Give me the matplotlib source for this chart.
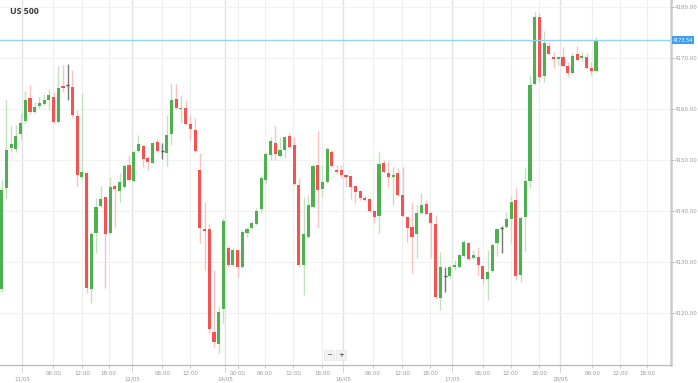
import numpy as np
import matplotlib
matplotlib.use("Agg")
import matplotlib.pyplot as plt

# hourly candles
opens = [4124.8, 4144.6, 4152.4, 4152.2, 4155.2, 4157.7, 4162.2, 4159.5, 4160.6, 4161.0,
         4161.8, 4162.4, 4157.5, 4164.4, 4164.8, 4164.4, 4158.7, 4146.7, 4147.5, 4124.8,
         4135.7, 4141.0, 4142.8, 4135.7, 4145.0, 4144.0, 4144.8, 4149.1, 4145.9, 4151.8,
         4152.8, 4150.5, 4149.5, 4153.6, 4151.8, 4151.4, 4155.2, 4162.0, 4160.0, 4160.3,
         4157.1, 4155.9, 4148.1, 4136.5, 4136.5, 4116.3, 4114.0, 4120.7, 4132.8, 4129.5,
         4132.4, 4129.1, 4135.7, 4136.7, 4137.5, 4140.4, 4146.1, 4151.0, 4153.4, 4150.8,
         4152.0, 4154.8, 4153.0, 4145.2, 4129.5, 4135.0, 4140.8, 4149.1, 4144.4, 4145.7,
         4151.6, 4148.1, 4148.1, 4147.1, 4146.9, 4145.0, 4144.0, 4142.6, 4142.4, 4140.1,
         4139.1, 4149.5, 4147.5, 4146.7, 4147.5, 4143.2, 4138.9, 4136.9, 4135.4, 4139.7,
         4141.4, 4139.7, 4137.5, 4123.0, 4127.3, 4127.3, 4129.1, 4129.1, 4131.2, 4133.8,
         4130.8, 4131.0, 4129.3, 4126.7, 4128.3, 4133.8, 4136.7, 4136.9, 4138.5, 4142.2,
         4127.5, 4138.9, 4145.9, 4164.9, 4178.1, 4166.5, 4172.4, 4170.1, 4169.9, 4170.3,
         4168.5, 4167.1, 4170.8, 4170.1, 4170.3, 4168.1, 4167.5]
highs = [4146.1, 4161.8, 4156.7, 4156.9, 4159.3, 4163.6, 4164.8, 4161.4, 4162.4, 4163.0,
         4164.0, 4163.4, 4168.5, 4168.7, 4168.9, 4167.7, 4159.9, 4163.2, 4147.7, 4136.0,
         4142.6, 4145.0, 4143.0, 4146.7, 4145.2, 4147.5, 4149.3, 4151.0, 4152.0, 4155.0,
         4153.0, 4150.8, 4153.8, 4154.2, 4153.4, 4158.9, 4165.2, 4165.0, 4162.8, 4161.8,
         4158.9, 4158.3, 4151.4, 4141.8, 4137.5, 4128.5, 4121.4, 4138.7, 4133.2, 4132.8,
         4132.6, 4136.3, 4136.9, 4138.1, 4140.6, 4147.1, 4151.6, 4154.6, 4156.7, 4154.6,
         4154.8, 4155.4, 4154.6, 4146.5, 4142.8, 4143.2, 4149.3, 4155.8, 4149.1, 4152.6,
         4152.0, 4149.1, 4149.1, 4147.3, 4147.1, 4145.2, 4144.2, 4143.0, 4142.6, 4140.3,
         4151.6, 4150.1, 4149.9, 4148.7, 4148.5, 4148.7, 4139.1, 4141.8, 4141.2, 4143.6,
         4142.2, 4140.1, 4139.3, 4132.0, 4129.1, 4129.5, 4130.4, 4131.6, 4134.4, 4134.0,
         4132.4, 4133.0, 4129.5, 4132.4, 4133.8, 4136.7, 4137.1, 4139.9, 4143.0, 4144.6,
         4139.1, 4148.5, 4166.7, 4179.1, 4178.9, 4175.4, 4173.2, 4171.2, 4170.5, 4172.2,
         4169.3, 4171.0, 4172.4, 4171.2, 4171.0, 4169.3, 4174.2]
lows = [4124.2, 4142.6, 4151.6, 4151.6, 4154.0, 4157.3, 4159.1, 4159.3, 4160.3, 4160.8,
        4159.9, 4157.1, 4157.3, 4163.4, 4161.8, 4158.5, 4145.0, 4146.5, 4124.0, 4122.0,
        4131.8, 4140.8, 4124.9, 4135.5, 4136.9, 4141.8, 4144.6, 4145.9, 4145.7, 4151.6,
        4148.7, 4148.1, 4149.3, 4151.6, 4150.3, 4148.9, 4153.0, 4160.0, 4157.3, 4156.9,
        4154.0, 4151.6, 4133.8, 4128.5, 4116.1, 4113.4, 4112.2, 4118.1, 4129.0, 4129.3,
        4127.1, 4128.9, 4134.9, 4136.5, 4137.3, 4139.7, 4145.5, 4150.1, 4150.1, 4150.6,
        4150.5, 4152.4, 4145.2, 4129.3, 4123.6, 4134.8, 4140.6, 4136.9, 4142.8, 4145.5,
        4148.7, 4147.3, 4146.5, 4144.8, 4142.4, 4141.6, 4142.2, 4142.0, 4139.9, 4137.7,
        4135.7, 4147.5, 4144.8, 4141.2, 4143.0, 4138.9, 4134.0, 4127.9, 4130.8, 4139.5,
        4139.3, 4130.8, 4123.0, 4120.5, 4124.2, 4126.9, 4128.5, 4128.9, 4131.0, 4130.4,
        4130.6, 4127.5, 4125.7, 4122.6, 4128.1, 4131.2, 4131.8, 4136.7, 4133.8, 4126.5,
        4126.1, 4132.2, 4144.6, 4164.7, 4165.3, 4165.3, 4170.6, 4168.1, 4168.7, 4168.3,
        4166.5, 4166.9, 4169.5, 4169.5, 4167.9, 4166.7, 4167.3]
closes = [4144.2, 4152.0, 4153.2, 4154.8, 4157.3, 4161.8, 4159.5, 4160.5, 4161.2, 4161.8,
          4162.8, 4157.5, 4164.2, 4164.2, 4164.8, 4158.9, 4147.1, 4147.7, 4124.9, 4135.4,
          4140.8, 4142.4, 4135.4, 4144.8, 4144.4, 4145.7, 4148.9, 4146.1, 4151.6, 4153.2,
          4150.3, 4149.7, 4153.4, 4151.8, 4151.8, 4155.0, 4161.8, 4160.3, 4160.3, 4157.1,
          4156.1, 4151.8, 4136.7, 4136.1, 4116.9, 4114.4, 4120.2, 4138.0, 4129.5, 4132.4,
          4129.1, 4135.9, 4136.5, 4137.7, 4140.1, 4146.5, 4151.2, 4153.8, 4151.2, 4152.0,
          4154.6, 4152.6, 4145.4, 4129.5, 4135.4, 4141.2, 4148.9, 4144.2, 4145.6, 4152.2,
          4148.9, 4147.7, 4147.1, 4146.7, 4144.8, 4143.8, 4142.6, 4142.2, 4140.1, 4138.9,
          4149.3, 4147.7, 4146.7, 4147.1, 4143.2, 4139.1, 4136.7, 4135.0, 4139.7, 4141.2,
          4139.5, 4137.7, 4123.2, 4129.1, 4127.3, 4129.1, 4129.5, 4131.4, 4134.0, 4130.6,
          4131.4, 4129.5, 4126.7, 4128.1, 4133.4, 4136.5, 4136.7, 4138.5, 4141.8, 4127.3,
          4138.7, 4145.9, 4164.8, 4178.1, 4166.3, 4173.0, 4170.8, 4169.9, 4170.3, 4168.5,
          4167.1, 4170.5, 4169.7, 4170.3, 4168.1, 4167.5, 4173.4]

time_pos = [10.9, 17.0, 22.7, 34.0, 39.9, 50.1, 55.8, 61.8, 67.9, 78.7, 84.9, 90.8,
            102.0, 107.9, 113.9, 125.2, 131.1, 136.8]
time_labels = ["06:00", "12:00", "18:00", "06:00", "12:00", "00:00", "06:00", "12:00", "18:00",
               "06:00", "12:00", "18:00", "06:00", "12:00", "18:00", "06:00", "12:00", "18:00"]
date_pos = [4.3, 27.6, 47.3, 72.4, 95.5, 118.4]
date_labels = ["11/05", "12/05", "14/05", "16/05", "17/05", "18/05"]
price_ticks = [4120, 4130, 4140, 4150, 4160, 4170, 4180]
last_price = 4173.54

GREEN, RED = "#4fb04f", "#f55252"
GREEN_W, RED_W = "#bfe3bc", "#f9c2c2"

o = np.array(opens)
h = np.array(highs)
l = np.array(lows)
c = np.array(closes)
x = np.arange(len(o))

fig = plt.figure(figsize=(6.98, 3.83), dpi=100)
ax = fig.add_axes([0, 18 / 383, 671 / 698, 365 / 383])

up = c > o
down = c < o
flat = c == o

wick_cols = np.where(up, GREEN_W, RED_W).astype(object)
wick_cols[flat] = "#777777"
ax.vlines(x, l, h, colors=list(wick_cols), lw=1, zorder=2)

body_h = np.maximum(np.abs(c - o), 0.3)
body_cols = np.where(up, GREEN, RED)
ax.bar(x[~flat], body_h[~flat], bottom=np.minimum(o, c)[~flat], width=0.66,
       color=body_cols[~flat], linewidth=0, zorder=3)
ax.hlines(c[flat], x[flat] - 0.33, x[flat] + 0.33, colors="#555555", lw=1, zorder=3)

ax.set_xlim(-0.36, 141.9)
ax.set_ylim(4109.8, 4181.4)

# grid
for p in time_pos:
    ax.axvline(p, color="#eeeeee", lw=0.8, zorder=0)
for p in date_pos:
    ax.axvline(p, color="#e2e2e2", lw=1, zorder=0)
for p in price_ticks:
    ax.axhline(p, color="#f2f2f2", lw=0.8, zorder=0)

ax.set_xticks(time_pos, time_labels)
ax.set_xticks(date_pos, date_labels, minor=True)
ax.tick_params(axis="x", which="major", length=2, color="#cccccc", pad=2,
               labelsize=4, labelcolor="#9a9a9a")
ax.tick_params(axis="x", which="minor", length=0, pad=8,
               labelsize=4, labelcolor="#9a9a9a")
ax.vlines(date_pos, -0.02, 0, transform=ax.get_xaxis_transform(), clip_on=False,
          colors="#aaaaaa", linestyles=(0, (1, 1)), lw=0.7)

ax.yaxis.tick_right()
ax.set_yticks(price_ticks, [f"{v:.2f}" for v in price_ticks])
ax.tick_params(axis="y", length=2, color="#bbbbbb", pad=1, labelsize=4, labelcolor="#9a9a9a")

for s in ["top", "left"]:
    ax.spines[s].set_visible(False)
ax.spines["right"].set_color("#cccccc")
ax.spines["right"].set_linewidth(1.8)
ax.spines["bottom"].set_color("#bdbdbd")
ax.spines["bottom"].set_linewidth(1)

# last price line + tag
ax.axhline(last_price, color="#92d2f2", lw=1, zorder=4)
ax.text(1.003, last_price, f"{last_price:.2f}", transform=ax.get_yaxis_transform(),
        ha="left", va="center", fontsize=3.5, color="white", clip_on=False,
        bbox=dict(boxstyle="square,pad=0.25", fc="#3d9ff0", ec="none"))

# zoom buttons
for xb, sym in [(0.49, "\u2212"), (0.508, "+")]:
    ax.text(xb, 0.027, sym, transform=ax.transAxes, ha="center", va="center",
            fontsize=5, color="#666666", fontweight="bold",
            bbox=dict(boxstyle="square,pad=0.3", fc="#f3f3f3", ec="#e6e6e6", lw=0.5))

fig.text(10 / 698, 1 - 11 / 383, "US 500", ha="left", va="center", fontsize=6.3,
         fontweight="bold", color="#3a3a3a", family=["Open Sans", "DejaVu Sans"])

fig.savefig("out.png", dpi=100)
